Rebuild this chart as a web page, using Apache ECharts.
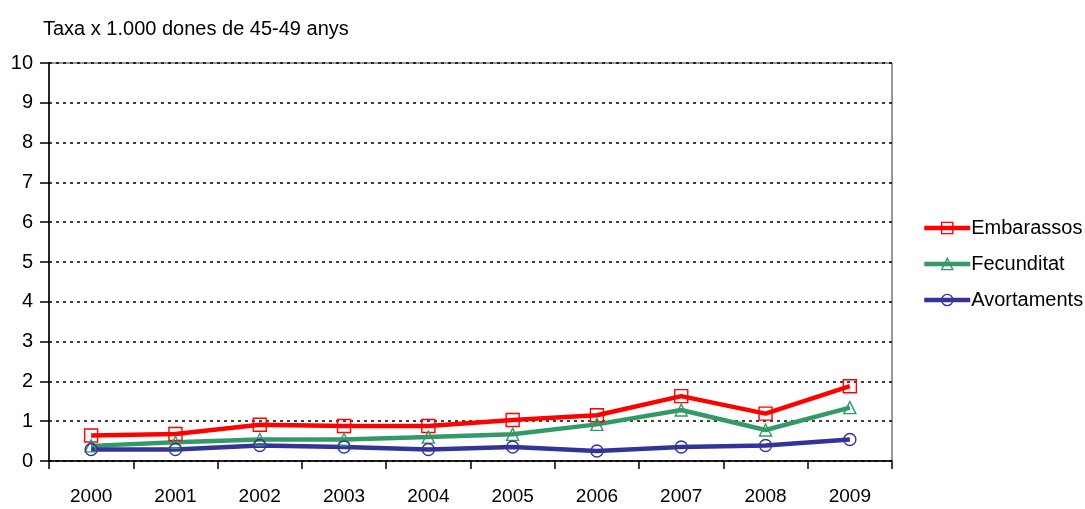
<!DOCTYPE html>
<html><head><meta charset="utf-8">
<script src="https://cdn.jsdelivr.net/npm/echarts@6/dist/echarts.min.js"></script>
<style>html,body{margin:0;padding:0;background:#fff}#c{width:1085px;height:509px}</style>
</head><body><div id="c"></div>
<script>
const years = ['2000','2001','2002','2003','2004','2005','2006','2007','2008','2009'];
const embarassos = [0.64, 0.68, 0.91, 0.88, 0.88, 1.03, 1.15, 1.63, 1.19, 1.88];
const fecunditat = [0.38, 0.47, 0.54, 0.54, 0.60, 0.67, 0.92, 1.28, 0.78, 1.34];
const avortaments = [0.29, 0.29, 0.39, 0.35, 0.29, 0.35, 0.25, 0.35, 0.39, 0.54];
const yTicks = [0,1,2,3,4,5,6,7,8,9,10];
const titleText = 'Taxa x 1.000 dones de 45-49 anys';

const font = '"Liberation Sans", Arial, sans-serif';
const clear = 'rgba(255,255,255,0)';
function mk(name, data, color, symbol, size) {
  return {
    name, type: 'line', data, symbol, symbolSize: size,
    lineStyle: { color, width: 4.5 },
    itemStyle: { color: clear, borderColor: color, borderWidth: 1.4 },
    emphasis: { disabled: true },
    z: 3
  };
}
function leg(name, color) {
  return { name, itemStyle: { color: clear, borderColor: color, borderWidth: 1.4 },
    lineStyle: { color, width: 4.5 } };
}
const chart = echarts.init(document.getElementById('c'), null, { renderer: 'canvas' });
chart.setOption({
  animation: false,
  backgroundColor: '#fff',
  title: { text: titleText, left: 38, top: 14,
    textStyle: { fontFamily: font, fontSize: 20, fontWeight: 'normal', color: '#000' } },
  grid: { left: 49, right: 193, top: 63, bottom: 48, show: true, borderColor: '#333', borderWidth: 1 },
  legend: {
    orient: 'vertical', left: 917, top: 213, itemGap: 16, itemWidth: 46, itemHeight: 14,
    textStyle: { fontFamily: font, fontSize: 20, color: '#000', padding: [0,0,0,-4] },
    data: [ leg('Embarassos', '#ff0000'), leg('Fecunditat', '#339966'), leg('Avortaments', '#333399') ]
  },
  xAxis: {
    type: 'category', data: years, boundaryGap: true,
    axisLine: { lineStyle: { color: '#000', width: 1.5 } },
    axisTick: { show: true, length: 8, alignWithLabel: false, lineStyle: { color: '#000', width: 1.5 } },
    axisLabel: { margin: 26, fontFamily: font, fontSize: 19, color: '#000' },
    splitLine: { show: false }
  },
  yAxis: {
    type: 'value', min: 0, max: 10, interval: 1,
    axisLine: { show: true, lineStyle: { color: '#000', width: 1.5 } },
    axisTick: { show: true, inside: false, length: 9, lineStyle: { color: '#000', width: 1.5 } },
    axisLabel: { margin: 16, fontFamily: font, fontSize: 20, color: '#000',
      formatter: v => yTicks.includes(v) ? String(v) : '' },
    splitLine: { show: true, lineStyle: { color: '#000', width: 1.5, type: [3, 4] } }
  },
  series: [
    mk('Embarassos', embarassos, '#ff0000', 'rect', 13),
    mk('Fecunditat', fecunditat, '#339966', 'triangle', 12),
    mk('Avortaments', avortaments, '#333399', 'circle', 12)
  ]
});
</script></body></html>
